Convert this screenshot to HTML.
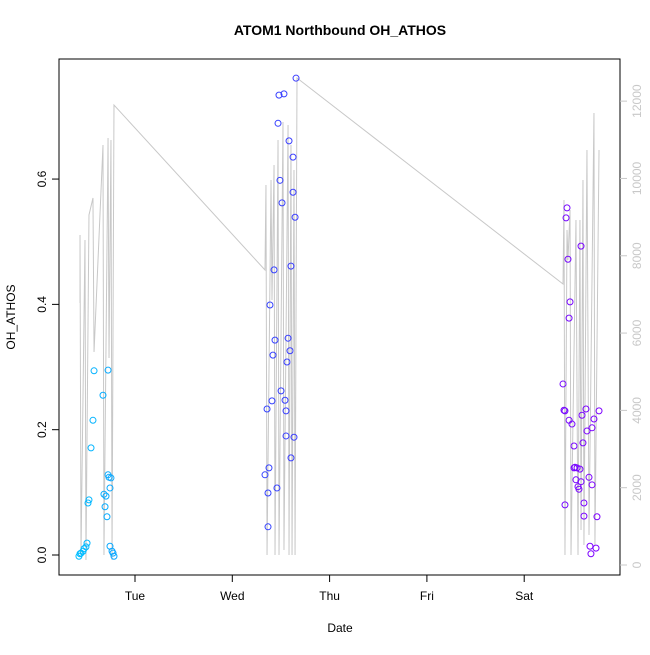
<!DOCTYPE html>
<html><head><meta charset="utf-8"><style>body{margin:0;background:#fff}svg{font-family:"Liberation Sans",sans-serif}</style></head>
<body>
<svg id="c" width="650" height="650">
<rect x="59" y="59" width="561" height="516" fill="none" stroke="#000"/>
<text x="340" y="35" text-anchor="middle" font-weight="bold" font-size="14">ATOM1 Northbound OH_ATHOS</text>
<text x="340" y="632" text-anchor="middle" font-size="12">Date</text>
<text transform="translate(15,317) rotate(-90)" text-anchor="middle" font-size="12">OH_ATHOS</text>
<g id="lines"></g><g id="pts"></g><g id="axes"></g>
</svg>
<script>
// Day index: Mon 00:00 = 0
const ptDays=[0.424,0.435,0.445,0.466,0.476,0.496,0.507,0.527,0.517,0.579,0.568,0.548,0.671,0.702,0.681,0.692,0.712,0.723,0.733,0.753,0.743,0.723,0.743,0.764,0.774,0.784,
2.655,2.480,2.531,2.470,2.583,2.624,2.490,2.511,2.624,2.645,2.603,2.429,2.387,2.439,2.573,2.418,2.593,2.562,2.501,2.408,2.542,2.552,2.357,2.552,2.634,2.603,2.377,2.336,2.459,2.367,2.367,
5.440,5.430,5.450,5.584,5.471,5.461,5.399,5.409,5.419,5.461,5.491,5.512,5.635,5.594,5.769,5.717,5.697,5.645,5.604,5.522,5.512,5.543,5.573,5.532,5.584,5.553,5.563,5.666,5.697,5.614,5.614,5.748,5.419,5.676,5.686,5.738];
const ptVals=[-0.002,0.002,0.003,0.006,0.010,0.013,0.019,0.088,0.083,0.294,0.215,0.171,0.255,0.094,0.097,0.077,0.061,0.128,0.124,0.123,0.107,0.295,0.014,0.006,0.003,-0.002,
0.761,0.734,0.736,0.689,0.661,0.635,0.598,0.562,0.579,0.539,0.461,0.455,0.399,0.343,0.346,0.319,0.326,0.308,0.262,0.246,0.247,0.230,0.233,0.190,0.188,0.155,0.139,0.128,0.107,0.099,0.045,
0.554,0.538,0.472,0.493,0.404,0.378,0.273,0.231,0.230,0.215,0.209,0.174,0.233,0.223,0.230,0.217,0.203,0.198,0.179,0.140,0.139,0.139,0.137,0.120,0.117,0.109,0.105,0.124,0.112,0.083,0.062,0.061,0.080,0.014,0.002,0.011];
const lineDays=[0.435,0.435,0.445,0.486,0.496,0.527,0.568,0.579,0.671,0.681,0.723,0.733,0.753,0.764,0.784,
2.336,2.346,2.357,2.398,2.408,2.429,2.439,2.470,2.480,2.521,2.531,2.573,2.583,2.603,2.614,2.634,2.645,2.665,
5.399,5.409,5.419,5.440,5.450,5.471,5.481,5.532,5.553,5.573,5.584,5.604,5.614,5.645,5.666,5.717,5.727,5.769];
const lineVals=[6778,8537,259,8408,129,9055,9494,5510,10865,259,11047,5355,10995,129,11900,
7632,9831,259,9960,6856,10348,259,10995,259,11460,388,11383,259,10865,259,10219,259,12599,
7269,9443,259,8666,7890,9184,259,8925,259,8925,905,9960,517,10736,776,11693,517,10736];
const xTicks=[1,2,3,4,5];
const xLabels=["Tue","Wed","Thu","Fri","Sat"];
const yTicks=[0,0.2,0.4,0.6];
const yLabels=["0.0","0.2","0.4","0.6"];
const rTicks=[0,2000,4000,6000,8000,10000,12000];

const X=d=>37.7+d*97.3, Y=v=>555-v/0.001596, R=v=>565-v/25.87;
const NS="http://www.w3.org/2000/svg";
function mk(t,p,a){const e=document.createElementNS(NS,t);for(const k in a)e.setAttribute(k,a[k]);p.appendChild(e);return e;}
const L=document.getElementById('lines'),P=document.getElementById('pts'),A=document.getElementById('axes');
const pl=mk('polyline',L,{points:lineDays.map((d,i)=>X(d)+','+R(lineVals[i])).join(' '),fill:'none',stroke:'#c8c8c8','stroke-width':1});


function col(d){const t=Math.max(0,Math.min(1,(d-0.4)/5.4));
 const a=[0,191,255],b=[51,68,255],c=[127,0,255];let r;
 if(t<0.35){const u=t/0.35;r=a.map((x,i)=>x+(b[i]-x)*u);}else{const u=(t-0.35)/0.65;r=b.map((x,i)=>x+(c[i]-x)*u);}
 return 'rgb('+r.map(Math.round).join(',')+')';}
ptDays.forEach((d,i)=>{const c=mk('circle',P,{cx:X(d),cy:Y(ptVals[i]),r:3,fill:'none',stroke:col(d),'stroke-width':1});

});
xTicks.forEach((d,i)=>{mk('line',A,{x1:X(d),x2:X(d),y1:575,y2:582,stroke:'#000'});
const t=mk('text',A,{x:X(d),y:600,'text-anchor':'middle','font-size':12});t.textContent=xLabels[i];

});
mk('line',A,{x1:X(1),x2:X(5),y1:575,y2:575,stroke:'#000'});
yTicks.forEach((v,i)=>{mk('line',A,{x1:52,x2:59,y1:Y(v),y2:Y(v),stroke:'#000'});
const t=mk('text',A,{transform:'translate(46,'+Y(v)+') rotate(-90)','text-anchor':'middle','font-size':12});t.textContent=yLabels[i];

});
mk('line',A,{x1:59,x2:59,y1:Y(0),y2:Y(0.6),stroke:'#000'});
rTicks.forEach(v=>{mk('line',A,{x1:620,x2:627,y1:R(v),y2:R(v),stroke:'#c8c8c8'});
const t=mk('text',A,{transform:'translate(641,'+R(v)+') rotate(-90)','text-anchor':'middle','font-size':12,fill:'#c8c8c8'});t.textContent=String(v);

});
</script>
</body></html>
